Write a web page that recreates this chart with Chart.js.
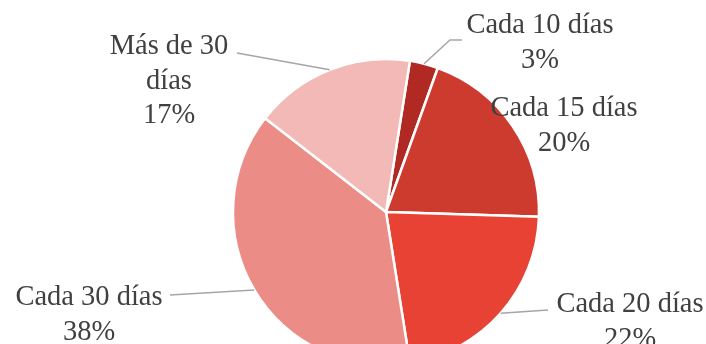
<!DOCTYPE html>
<html>
<head>
<meta charset="utf-8">
<script src="https://cdn.jsdelivr.net/npm/chart.js@4/dist/chart.umd.min.js"></script>
<style>
  html, body { margin: 0; padding: 0; background: #fff; }
  #wrap { width: 706px; height: 344px; overflow: hidden; position: relative; }
  #wrap canvas { display: block; }
</style>
</head>
<body>
<div id="wrap"><canvas id="myChart" width="706" height="424"></canvas></div>
<script>
/*globals Chart*/
// frecuencia de revisión (porcentaje de respuestas)
const categorias = ["Cada 10 días", "Cada 15 días", "Cada 20 días", "Cada 30 días", "Más de 30 días"];
const porcentajes = [3, 20, 22, 38, 17];
const colores = ["#b02a23", "#cd3a2e", "#e84234", "#ec8c86", "#f3b9b7"];

// lineas de texto de cada etiqueta
const lineasEtiqueta = [
	["Cada 10 días", "3%"],
	["Cada 15 días", "20%"],
	["Cada 20 días", "22%"],
	["Cada 30 días", "38%"],
	["Más de 30", "días", "17%"],
];
// posición de la etiqueta (respecto al centro) y extremo de la guía
const colocacion = [
	{ texto: [154, -179], guia: [[64, -172], [76, -172]] },
	{ texto: [178, -96], guia: null },
	{ texto: [244, 100], guia: [[162, 98]] },
	{ texto: [-297, 93], guia: [[-216, 83]] },
	{ texto: [-217, -158], guia: [[-149, -159]] },
];

const etiquetas = {
	id: "etiquetas",
	afterDatasetsDraw(chart) {
		const ctx = chart.ctx;
		const arcos = chart.getDatasetMeta(0).data;
		ctx.save();
		ctx.font = "28.5px 'Liberation Serif', 'Times New Roman', serif";
		ctx.fillStyle = "#404040";
		ctx.textAlign = "center";
		ctx.textBaseline = "alphabetic";
		arcos.forEach((arco, i) => {
			const { x, y, startAngle, endAngle, outerRadius } = arco;
			const medio = (startAngle + endAngle) / 2;
			const c = colocacion[i];
			if (c.guia) {
				ctx.strokeStyle = "#a6a6a6";
				ctx.lineWidth = 1.5;
				ctx.beginPath();
				ctx.moveTo(x + Math.cos(medio) * outerRadius, y + Math.sin(medio) * outerRadius);
				c.guia.forEach(([dx, dy]) => ctx.lineTo(x + dx, y + dy));
				ctx.stroke();
			}
			lineasEtiqueta[i].forEach((linea, j) => {
				ctx.fillText(linea, x + c.texto[0], y + c.texto[1] + j * 34.5);
			});
		});
		ctx.restore();
	},
};

function generaGrafico() {
	const ctx = document.getElementById("myChart").getContext("2d");
	new Chart(ctx, {
		type: "pie",
		data: {
			labels: categorias,
			datasets: [
				{
					data: porcentajes,
					backgroundColor: colores,
					borderColor: "#ffffff",
					borderWidth: 2.5,
				},
			],
		},
		options: {
			responsive: false,
			animation: false,
			rotation: 9,
			radius: 153,
			layout: { padding: { left: 66 } },
			plugins: {
				legend: { display: false },
				tooltip: { enabled: false },
			},
		},
		plugins: [etiquetas],
	});
}
generaGrafico();
</script>
</body>
</html>
